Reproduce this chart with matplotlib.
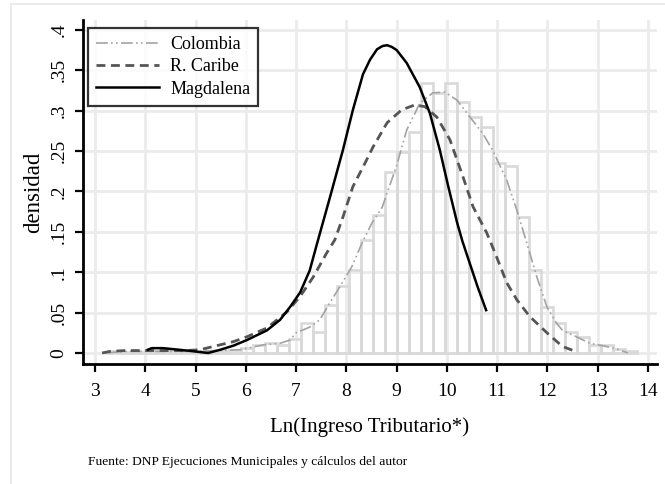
import matplotlib
matplotlib.use("Agg")
import matplotlib.pyplot as plt
from matplotlib.patches import Rectangle

plt.rcParams['font.family'] = ['Liberation Serif', 'DejaVu Serif']

# histogram (Colombia), left edges of bins and densities
bin_left = [3.273, 3.511, 3.750, 3.989, 4.227, 4.466, 4.705, 4.943, 5.182, 5.420,
            5.659, 5.898, 6.136, 6.375, 6.614, 6.852, 7.091, 7.330, 7.568, 7.807,
            8.045, 8.284, 8.523, 8.761, 9.000, 9.239, 9.477, 9.716, 9.954, 10.193,
            10.432, 10.670, 10.909, 11.147, 11.386, 11.625, 11.863, 12.102, 12.340,
            12.579, 12.818, 13.056, 13.295, 13.534]
bin_h = [0.002, 0.001, 0.001, 0.002, 0.002, 0.002, 0.001, 0.002, 0.002, 0.003,
         0.004, 0.006, 0.010, 0.012, 0.010, 0.017, 0.037, 0.026, 0.059, 0.083,
         0.103, 0.140, 0.171, 0.224, 0.249, 0.274, 0.334, 0.322, 0.334, 0.311,
         0.292, 0.280, 0.235, 0.232, 0.168, 0.103, 0.057, 0.037, 0.026,
         0.020, 0.010, 0.010, 0.005, 0.003]
bin_w = 0.2386

colombia_x = [3.2, 3.6, 4.0, 4.5, 5.0, 5.4, 5.88, 6.34, 6.68, 6.88, 7.0, 7.27, 7.47,
              7.67, 7.87, 8.11, 8.31, 8.51, 8.71, 8.81, 9.0, 9.2, 9.46, 9.72, 9.96,
              10.2, 10.46, 10.71, 10.91, 11.19, 11.39, 11.59, 11.79, 11.99, 12.18,
              12.3, 12.58, 12.84, 13.1, 13.38, 13.6]
colombia_y = [0.000, 0.002, 0.002, 0.002, 0.002, 0.003, 0.004, 0.010, 0.012, 0.016,
              0.025, 0.032, 0.041, 0.062, 0.082, 0.107, 0.136, 0.161, 0.180, 0.198,
              0.232, 0.276, 0.309, 0.322, 0.323, 0.313, 0.292, 0.272, 0.251, 0.214,
              0.177, 0.136, 0.094, 0.057, 0.037, 0.028, 0.020, 0.012, 0.009, 0.005,
              0.000]

caribe_x = [3.14, 3.3, 3.6, 4.0, 4.5, 4.8, 5.09, 5.35, 5.75, 6.02, 6.42, 6.82, 7.08,
            7.34, 7.61, 7.77, 7.93, 8.13, 8.37, 8.53, 8.81, 9.1, 9.36, 9.56, 9.8,
            10.06, 10.32, 10.52, 10.79, 10.95, 11.19, 11.39, 11.65, 11.99, 12.3, 12.56]
caribe_y = [0.000, 0.002, 0.003, 0.003, 0.003, 0.003, 0.004, 0.008, 0.014, 0.020,
            0.031, 0.051, 0.070, 0.094, 0.124, 0.140, 0.168, 0.206, 0.235, 0.255,
            0.285, 0.301, 0.307, 0.305, 0.292, 0.264, 0.218, 0.181, 0.149, 0.125,
            0.087, 0.066, 0.045, 0.025, 0.008, 0.002]

magdalena_x = [4.05, 4.13, 4.35, 4.83, 5.25, 5.49, 5.75, 6.02, 6.42, 6.68, 6.88,
               7.08, 7.27, 7.41, 7.54, 7.67, 7.93, 8.13, 8.33, 8.47, 8.61, 8.72, 8.81,
               8.9, 9.0, 9.2, 9.46, 9.66, 9.86, 10.02, 10.2, 10.31, 10.46, 10.61, 10.78]
magdalena_y = [0.004, 0.006, 0.006, 0.003, 0.000, 0.004, 0.009, 0.016, 0.028, 0.041,
               0.057, 0.075, 0.102, 0.134, 0.163, 0.192, 0.251, 0.301, 0.345, 0.363,
               0.376, 0.380, 0.381, 0.379, 0.375, 0.359, 0.329, 0.297, 0.251, 0.208,
               0.162, 0.138, 0.110, 0.082, 0.053]

xticks = list(range(3, 15))
yticks = [0, 0.05, 0.1, 0.15, 0.2, 0.25, 0.3, 0.35, 0.4]
ytick_labels = ['0', '.05', '.1', '.15', '.2', '.25', '.3', '.35', '.4']

fig = plt.figure(figsize=(6.65, 4.84), dpi=100)
ax = fig.add_axes([0.1248, 0.248, 0.8632, 0.711])

# outer light frame like stata graph region
fig.patches.append(Rectangle((11 / 665, -0.1), 1.2, 1 - 4 / 484 + 0.1, transform=fig.transFigure,
                             fill=False, edgecolor='#ebebeb', linewidth=1.5))

ax.bar(bin_left, bin_h, width=bin_w, align='edge', fill=False,
       edgecolor='#d9d9d9', linewidth=1.9, zorder=2)

ax.plot(colombia_x, colombia_y, color='#a3a3a3', lw=1.2,
        dashes=(7, 2, 1, 2, 1, 2), label='Colombia', zorder=3)
ax.plot(caribe_x, caribe_y, color='#555555', lw=2.0,
        dashes=(3.2, 2.0), label='R. Caribe', zorder=4)
ax.plot(magdalena_x, magdalena_y, color='black', lw=1.8,
        label='Magdalena', zorder=5)

ax.set_xlim(2.76, 14.18)
ax.set_ylim(-0.0136, 0.4124)
ax.set_xticks(xticks)
ax.set_yticks(yticks)
ax.set_yticklabels(ytick_labels, rotation=90, va='center')
ax.tick_params(axis='both', labelsize=14, width=1.6, length=6, direction='out')
ax.tick_params(axis='x', pad=8)
ax.tick_params(axis='y', pad=5)
ax.grid(True, color='#ebebeb', lw=2.0, zorder=0)
ax.set_axisbelow(True)

for s in ['top', 'right']:
    ax.spines[s].set_visible(False)
for s in ['left', 'bottom']:
    ax.spines[s].set_linewidth(2.0)

ax.set_xlabel('Ln(Ingreso Tributario*)', fontsize=15, labelpad=12)
ax.set_ylabel('densidad', fontsize=16.5, labelpad=5)

leg = ax.legend(loc='upper left', bbox_to_anchor=(0.0087, 0.977), borderaxespad=0,
                fontsize=13, handlelength=3.5, handletextpad=0.6, labelspacing=0.3,
                fancybox=False, frameon=True, borderpad=0.45)
leg.get_frame().set_edgecolor('black')
leg.get_frame().set_linewidth(1.6)

fig.text(88 / 665, 1 - 462 / 484, 'Fuente: DNP Ejecuciones Municipales y cálculos del autor',
         fontsize=9.7, va='center', ha='left')

fig.savefig('out.png', dpi=100)
